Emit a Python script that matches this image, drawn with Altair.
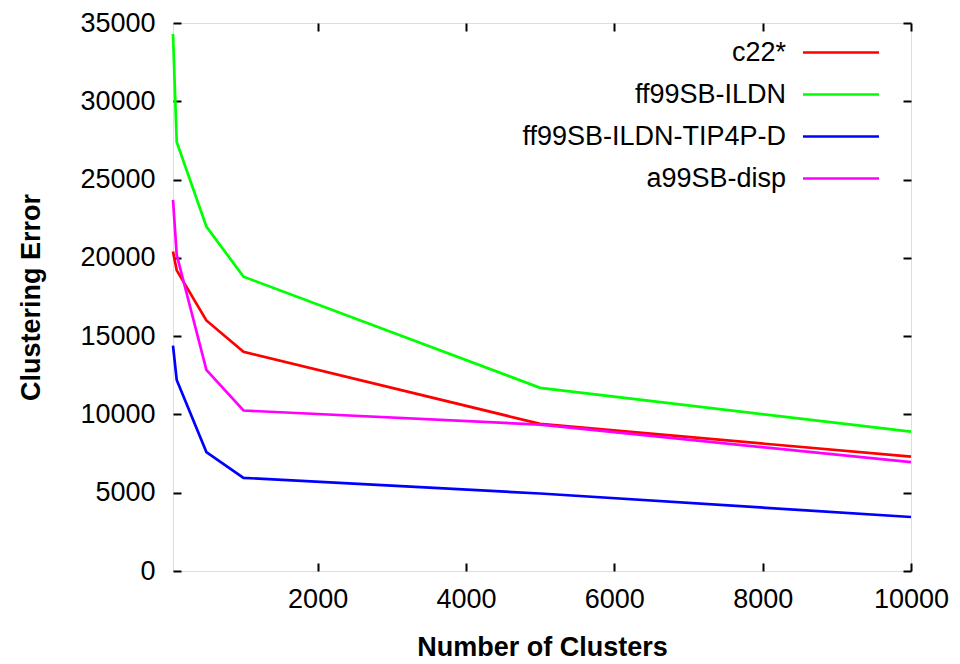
import altair as alt
import pandas as pd

# ---- data ----
clusters = [50, 100, 500, 1000, 5000, 10000]
c22 = [20400, 19200, 16000, 14000, 9400, 7300]
ff99sb_ildn = [34300, 27400, 22000, 18800, 11700, 8900]
ff99sb_ildn_tip4pd = [14400, 12200, 7600, 5950, 4950, 3450]
a99sb_disp = [23700, 20200, 12850, 10250, 9350, 6950]

series_names = ["c22*", "ff99SB-ILDN", "ff99SB-ILDN-TIP4P-D", "a99SB-disp"]
series_colors = ["#ff0000", "#00ff00", "#0000ff", "#ff00ff"]
x_ticks = [2000, 4000, 6000, 8000, 10000]
y_ticks = [0, 5000, 10000, 15000, 20000, 25000, 30000, 35000]

rows = []
for name, vals in zip(series_names, [c22, ff99sb_ildn, ff99sb_ildn_tip4pd, a99sb_disp]):
    for x, y in zip(clusters, vals):
        rows.append({"series": name, "clusters": x, "error": y})
df = pd.DataFrame(rows)

W, H = 738, 548
FONT = "Liberation Sans"

def xs():
    return alt.Scale(domain=[50, 10000], nice=False, zero=False)

def ys():
    return alt.Scale(domain=[0, 35000], nice=False, zero=False)

# legend sample line drawn to the right of the (right-aligned) label
legend_symbol = "M6.1,0L21.3,0"

main = alt.Chart(df).mark_line(strokeWidth=2.7).encode(
    x=alt.X("clusters:Q", scale=xs(), axis=alt.Axis(
        values=x_ticks, format="d", title="Number of Clusters", orient="bottom",
        ticks=False, domain=False, grid=False, labelPadding=15, titlePadding=22,
        labelFlush=False,
        labelFontSize=27, titleFontSize=27, labelFont=FONT, titleFont=FONT,
        titleFontWeight="bold", labelColor="black", titleColor="black")),
    y=alt.Y("error:Q", scale=ys(), axis=alt.Axis(
        values=y_ticks, format="d", title="Clustering Error", orient="left",
        ticks=False, domain=False, grid=False, labelPadding=18, titlePadding=34,
        labelFlush=False,
        labelFontSize=27, titleFontSize=27, labelFont=FONT, titleFont=FONT,
        titleFontWeight="bold", labelColor="black", titleColor="black")),
    color=alt.Color("series:N", sort=series_names,
                    scale=alt.Scale(domain=series_names, range=series_colors),
                    legend=alt.Legend(title=None, orient="none", legendX=586, legendY=16,
                                      labelAlign="right", labelOffset=0,
                                      symbolType=legend_symbol, symbolSize=100,
                                      symbolStrokeWidth=2.7, labelFontSize=27,
                                      labelFont=FONT, labelColor="black",
                                      labelLimit=500, rowPadding=14, padding=0)),
)

tick_style = dict(labels=False, domain=False, grid=False, ticks=True, tickSize=8,
                  tickWidth=2, tickColor="black", title=None)

ticks_a = alt.Chart(df).mark_line(opacity=0).encode(
    x=alt.X("clusters:Q", scale=xs(), axis=alt.Axis(values=x_ticks, orient="top", offset=-H, **tick_style)),
    y=alt.Y("error:Q", scale=ys(), axis=alt.Axis(values=y_ticks, orient="right", offset=-W, **tick_style)),
    detail="series:N",
)
ticks_b = alt.Chart(df).mark_line(opacity=0).encode(
    x=alt.X("clusters:Q", scale=xs(), axis=alt.Axis(values=x_ticks, orient="bottom", offset=-H, **tick_style)),
    y=alt.Y("error:Q", scale=ys(), axis=alt.Axis(values=y_ticks, orient="left", offset=-W, **tick_style)),
    detail="series:N",
)

chart = alt.layer(main, ticks_a, ticks_b).resolve_scale(
    x="independent", y="independent"
).properties(
    width=W, height=H,
    autosize=alt.AutoSizeParams(type="none"),
    padding={"left": 173, "top": 23, "right": 49, "bottom": 93},
).configure_view(stroke="black", strokeWidth=2).configure(background="white")

chart.save("out.html", embed_options={"renderer": "svg", "actions": False})
